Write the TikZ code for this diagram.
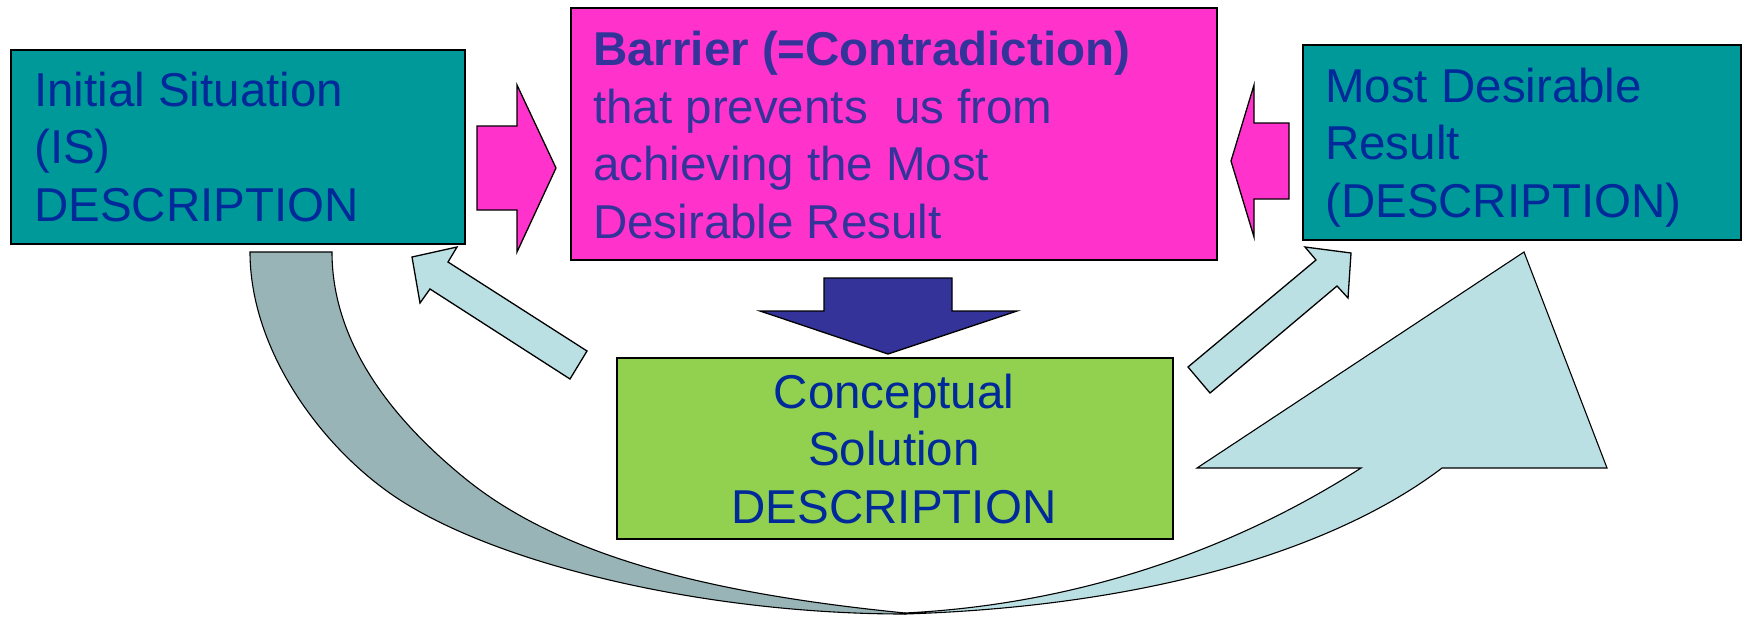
\documentclass[tikz,border=0pt]{standalone}
\usepackage{fontspec}
\setmainfont{Liberation Sans}
\definecolor{tealbox}{HTML}{009999}
\definecolor{pinkbox}{HTML}{FF33CC}
\definecolor{navyarrow}{HTML}{333399}
\definecolor{greenbox}{HTML}{92D050}
\definecolor{paleblue}{HTML}{BBE0E3}
\definecolor{greyblue}{HTML}{98B4B6}
\definecolor{deepblue}{HTML}{00299A}
\begin{document}
\begin{tikzpicture}[x=1pt,y=-1pt,
  panel/.style={draw=black, line width=1.5pt, anchor=north west, inner sep=0pt},
  blockarrow/.style={draw=black, line width=1.3pt, line join=miter},
  curvearrow/.style={draw=black, line width=1.1pt, line join=miter},
  boxtext/.style={font=\fontsize{47.5}{57.5}\selectfont, inner sep=0pt, align=left, text=deepblue},
]
\useasboundingbox (0,0) rectangle (1742,616);

% curved arrows running underneath
\draw[curvearrow, fill=greyblue] (250,252) -- (332,252)
  .. controls (332,352) and (405,430) .. (467,480)
  .. controls (568,561) and (725,595) .. (905,613)
  -- (905,614)
  .. controls (705,614) and (501,565) .. (400,500)
  .. controls (324,451) and (250,352) .. (250,252)
  -- cycle;
\draw[curvearrow, fill=paleblue] (905,614)
  .. controls (1155,606) and (1338,547) .. (1442,468)
  -- (1607,468) -- (1524,252) -- (1197,468) -- (1361,468)
  .. controls (1260,533) and (1105,603) .. (905,613)
  -- cycle;

% boxes
\node[panel, fill=tealbox, minimum width=454pt, minimum height=194pt] (is) at (10,49) {};
\node[panel, fill=pinkbox, minimum width=646pt, minimum height=252pt] (barrier) at (570,7) {};
\node[panel, fill=tealbox, minimum width=438pt, minimum height=195pt] (mdr) at (1302,44) {};
\node[panel, fill=greenbox, minimum width=556pt, minimum height=181pt] (cs) at (616,357) {};

% block arrows
\draw[blockarrow, fill=pinkbox] (477,126) -- (517,126) -- (517,85) -- (556,168) -- (517,252) -- (517,210) -- (477,210) -- cycle;
\draw[blockarrow, fill=pinkbox] (1289,123) -- (1254,123) -- (1254,85) -- (1231,161) -- (1254,237) -- (1254,199) -- (1289,199) -- cycle;
\draw[blockarrow, fill=navyarrow] (824,278) -- (952,278) -- (952,311) -- (1017,311) -- (888,354) -- (760,311) -- (824,311) -- cycle;
\draw[blockarrow, fill=paleblue] (412,257) -- (457,247) -- (448,262) -- (587,351) -- (570,379) -- (430,289) -- (420,303) -- cycle;
\draw[blockarrow, fill=paleblue] (1351,253) -- (1348,298) -- (1337,286) -- (1210,393) -- (1188,367) -- (1316,260) -- (1305,247) -- cycle;

% texts
\node[boxtext, anchor=base west] (isText) at (34,221) {Initial Situation\\(IS)\\DESCRIPTION};
\node[boxtext, anchor=base west, text=navyarrow] (barrierText) at (593,238) {\textbf{Barrier (=Contradiction)}\\that prevents\ \ us from\\achieving the Most\\Desirable Result};
\node[boxtext, anchor=base west] (mdrText) at (1325,217) {Most Desirable\\Result\\(DESCRIPTION)};
\node[boxtext, anchor=base, align=center] (csText) at (894,523) {Conceptual\\Solution\\DESCRIPTION};
\end{tikzpicture}
\end{document}
